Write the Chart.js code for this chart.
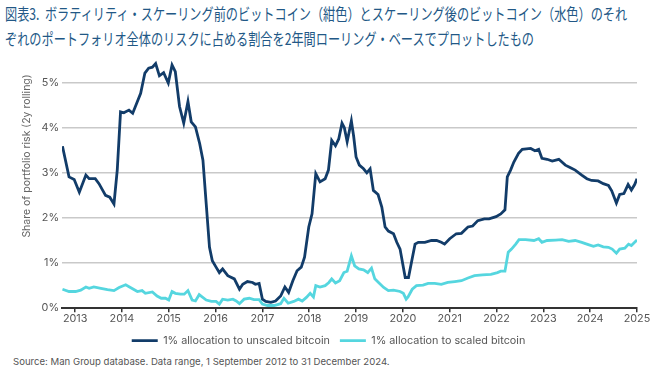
<!DOCTYPE html>
<html>
<head>
<meta charset="utf-8">
<script src="https://cdn.jsdelivr.net/npm/chart.js@4"></script>
<style>
    body { margin: 0; background: #fff; width: 660px; height: 375px; overflow: hidden; position: relative; }
    .titulo {
        position: absolute; left: 5px; top: 1px; width: 820px;
        font-family: "Noto Sans CJK JP", sans-serif; font-size: 16px; line-height: 25px;
        color: #225886; transform: scaleX(0.76); transform-origin: left top; white-space: nowrap;
    }
    .fonte {
        position: absolute; left: 13px; top: 356px;
        font-family: Inter, sans-serif; font-size: 9.6px; color: #555;
    }
    #caixa { position: absolute; left: 0; top: 50px; width: 660px; height: 306px; }
</style>
</head>
<body>
<div class="titulo">図表3.&nbsp; ボラティリティ・スケーリング前のビットコイン（紺色）とスケーリング後のビットコイン（水色）のそれ<br>ぞれのポートフォリオ全体のリスクに占める割合を2年間ローリング・ベースでプロットしたもの</div>
<div id="caixa"><canvas id="grafico"></canvas></div>
<div class="fonte">Source: Man Group database. Data range, 1 September 2012 to 31 December 2024.</div>

<script>
// Dados (anos decimais, % do risco)
var unscaledDates = [2012.73, 2012.87, 2012.98, 2013.09, 2013.23, 2013.3, 2013.43, 2013.51, 2013.65, 2013.74, 2013.83, 2013.9, 2013.97, 2014.04, 2014.15, 2014.23, 2014.33, 2014.4, 2014.49, 2014.57, 2014.65, 2014.72, 2014.8, 2014.89, 2014.99, 2015.07, 2015.14, 2015.23, 2015.32, 2015.41, 2015.48, 2015.57, 2015.66, 2015.73, 2015.8, 2015.87, 2015.93, 2016.01, 2016.08, 2016.15, 2016.26, 2016.4, 2016.51, 2016.58, 2016.68, 2016.79, 2016.85, 2016.93, 2017.0, 2017.07, 2017.18, 2017.28, 2017.39, 2017.48, 2017.56, 2017.65, 2017.74, 2017.83, 2017.9, 2017.99, 2018.06, 2018.14, 2018.23, 2018.34, 2018.41, 2018.48, 2018.56, 2018.63, 2018.7, 2018.75, 2018.81, 2018.9, 2018.95, 2019.0, 2019.07, 2019.16, 2019.23, 2019.3, 2019.37, 2019.47, 2019.55, 2019.62, 2019.69, 2019.8, 2019.87, 2019.94, 2020.01, 2020.05, 2020.12, 2020.19, 2020.26, 2020.33, 2020.47, 2020.61, 2020.72, 2020.82, 2020.89, 2021.0, 2021.14, 2021.25, 2021.39, 2021.49, 2021.6, 2021.74, 2021.84, 2021.99, 2022.09, 2022.18, 2022.23, 2022.3, 2022.37, 2022.47, 2022.55, 2022.73, 2022.82, 2022.9, 2022.97, 2023.08, 2023.19, 2023.33, 2023.47, 2023.57, 2023.68, 2023.82, 2023.93, 2024.03, 2024.17, 2024.28, 2024.39, 2024.46, 2024.56, 2024.63, 2024.72, 2024.81, 2024.88, 2024.95, 2025.0];
var unscaledShare = [3.59, 2.91, 2.85, 2.57, 2.95, 2.87, 2.87, 2.76, 2.5, 2.46, 2.31, 3.06, 4.35, 4.33, 4.39, 4.32, 4.58, 4.76, 5.21, 5.32, 5.34, 5.42, 5.15, 5.22, 4.99, 5.39, 5.24, 4.47, 4.1, 4.58, 4.13, 4.02, 3.65, 3.28, 2.31, 1.35, 1.05, 0.91, 0.79, 0.87, 0.72, 0.65, 0.42, 0.53, 0.59, 0.57, 0.53, 0.55, 0.2, 0.15, 0.13, 0.16, 0.27, 0.47, 0.35, 0.61, 0.83, 0.91, 1.13, 1.8, 2.09, 2.98, 2.8, 2.87, 3.06, 3.72, 3.6, 3.75, 4.1, 4.0, 3.69, 4.15, 3.8, 3.35, 3.17, 3.09, 3.0, 3.09, 2.61, 2.52, 2.24, 1.8, 1.71, 1.65, 1.46, 1.31, 0.91, 0.68, 0.68, 1.05, 1.42, 1.46, 1.46, 1.5, 1.5, 1.46, 1.42, 1.54, 1.65, 1.66, 1.8, 1.82, 1.94, 1.98, 1.98, 2.03, 2.09, 2.18, 2.91, 3.06, 3.24, 3.43, 3.52, 3.54, 3.49, 3.52, 3.32, 3.3, 3.26, 3.3, 3.17, 3.12, 3.06, 2.95, 2.87, 2.83, 2.82, 2.76, 2.72, 2.6, 2.33, 2.52, 2.54, 2.74, 2.62, 2.74, 2.87];

var scaledDates = [2012.73, 2012.87, 2013.01, 2013.12, 2013.23, 2013.3, 2013.4, 2013.55, 2013.69, 2013.83, 2013.94, 2014.08, 2014.18, 2014.33, 2014.43, 2014.5, 2014.65, 2014.75, 2014.84, 2014.93, 2015.0, 2015.07, 2015.14, 2015.25, 2015.33, 2015.41, 2015.5, 2015.57, 2015.65, 2015.8, 2015.91, 2016.01, 2016.08, 2016.15, 2016.26, 2016.37, 2016.44, 2016.51, 2016.61, 2016.72, 2016.82, 2016.93, 2017.0, 2017.11, 2017.25, 2017.39, 2017.46, 2017.55, 2017.67, 2017.77, 2017.85, 2017.94, 2018.02, 2018.09, 2018.14, 2018.23, 2018.34, 2018.42, 2018.48, 2018.56, 2018.65, 2018.74, 2018.81, 2018.9, 2018.97, 2019.06, 2019.16, 2019.25, 2019.33, 2019.4, 2019.48, 2019.59, 2019.69, 2019.8, 2019.94, 2020.01, 2020.07, 2020.11, 2020.2, 2020.29, 2020.43, 2020.54, 2020.68, 2020.82, 2020.96, 2021.11, 2021.25, 2021.39, 2021.53, 2021.7, 2021.88, 2022.02, 2022.09, 2022.18, 2022.25, 2022.32, 2022.41, 2022.48, 2022.62, 2022.8, 2022.9, 2022.97, 2023.08, 2023.26, 2023.4, 2023.54, 2023.68, 2023.82, 2023.96, 2024.07, 2024.17, 2024.28, 2024.39, 2024.47, 2024.56, 2024.63, 2024.74, 2024.82, 2024.88, 2024.95, 2025.0];
var scaledShare = [0.42, 0.37, 0.37, 0.4, 0.47, 0.44, 0.47, 0.44, 0.41, 0.39, 0.46, 0.52, 0.46, 0.37, 0.39, 0.33, 0.36, 0.27, 0.22, 0.22, 0.18, 0.37, 0.33, 0.31, 0.31, 0.39, 0.18, 0.16, 0.3, 0.18, 0.15, 0.15, 0.09, 0.2, 0.18, 0.2, 0.16, 0.1, 0.2, 0.22, 0.19, 0.19, 0.09, 0.06, 0.06, 0.1, 0.22, 0.11, 0.15, 0.2, 0.16, 0.24, 0.33, 0.25, 0.5, 0.47, 0.5, 0.57, 0.65, 0.56, 0.61, 0.79, 0.82, 1.16, 0.94, 0.87, 0.85, 0.79, 0.89, 0.65, 0.57, 0.46, 0.39, 0.4, 0.37, 0.33, 0.2, 0.25, 0.42, 0.5, 0.51, 0.55, 0.55, 0.53, 0.57, 0.59, 0.61, 0.67, 0.72, 0.74, 0.75, 0.79, 0.82, 0.82, 1.24, 1.31, 1.42, 1.52, 1.52, 1.5, 1.54, 1.46, 1.5, 1.51, 1.52, 1.48, 1.5, 1.46, 1.41, 1.37, 1.4, 1.36, 1.35, 1.31, 1.22, 1.31, 1.33, 1.42, 1.39, 1.46, 1.51];

var yearTicks = [2013, 2014, 2015, 2016, 2017, 2018, 2019, 2020, 2021, 2022, 2023, 2024, 2025];
var shareTicks = [0, 1, 2, 3, 4, 5];
var seriesNames = ['1% allocation to unscaled bitcoin', '1% allocation to scaled bitcoin'];
var yTitle = 'Share of portfolio risk (2y rolling)';

function pares(xs, ys) {
    return xs.map((x, i) => ({ x: x, y: ys[i] }));
}

var fonte = { family: 'Inter, sans-serif', size: 10.8 };

// Título do eixo Y desenhado à mão (no original não está centrado na área)
var tituloEixo = {
    id: 'tituloEixo',
    afterDraw: function(chart) {
        var ctx = chart.ctx;
        ctx.save();
        ctx.translate(27, 106);
        ctx.rotate(-Math.PI / 2);
        ctx.font = '10.5px Inter, sans-serif';
        ctx.fillStyle = '#666';
        ctx.textAlign = 'center';
        ctx.textBaseline = 'middle';
        ctx.fillText(yTitle, 0, 0);
        ctx.restore();
    }
};

var grafico = new Chart(document.getElementById('grafico'), {
    type: 'line',
    data: {
        datasets: [
            {
                label: seriesNames[0],
                data: pares(unscaledDates, unscaledShare),
                borderColor: '#123c69',
                backgroundColor: '#123c69',
                borderWidth: 2.8,
                pointRadius: 0,
                pointStyle: 'line'
            },
            {
                label: seriesNames[1],
                data: pares(scaledDates, scaledShare),
                borderColor: '#55d6df',
                backgroundColor: '#55d6df',
                borderWidth: 2.8,
                pointRadius: 0,
                pointStyle: 'line'
            }
        ]
    },
    plugins: [tituloEixo],
    options: {
        responsive: true,
        maintainAspectRatio: false,
        animation: false,
        layout: { padding: { top: 10, right: 23, left: 20, bottom: 0 } },
        plugins: {
            tooltip: { enabled: false },
            legend: {
                position: 'bottom',
                labels: {
                    usePointStyle: true,
                    pointStyleWidth: 26,
                    padding: 10,
                    color: '#555',
                    font: { family: 'Inter, sans-serif', size: 10.8 }
                }
            }
        },
        scales: {
            x: {
                type: 'linear',
                min: 2012.72,
                max: 2025,
                afterBuildTicks: function(scale) {
                    scale.ticks = yearTicks.map(v => ({ value: v }));
                },
                afterFit: function(scale) { scale.height = 17; },
                ticks: {
                    color: '#555',
                    font: fonte,
                    padding: 0,
                    maxRotation: 0,
                    autoSkip: false,
                    callback: function(v) { return String(v); }
                },
                grid: { drawOnChartArea: false, drawTicks: true, tickLength: 4, color: '#333', lineWidth: 1.5 },
                border: { display: true, color: '#333', width: 2 }
            },
            y: {
                min: 0,
                max: 5.5,
                afterBuildTicks: function(scale) {
                    scale.ticks = shareTicks.map(v => ({ value: v }));
                },
                afterFit: function(scale) { scale.width = 42; },
                ticks: {
                    color: '#555',
                    font: fonte,
                    padding: 3,
                    callback: function(v) { return v + '%'; }
                },
                grid: { drawTicks: false, color: '#c9c9c9', lineWidth: 1.5 },
                border: { display: false }
            }
        }
    }
});
</script>
</body>
</html>
